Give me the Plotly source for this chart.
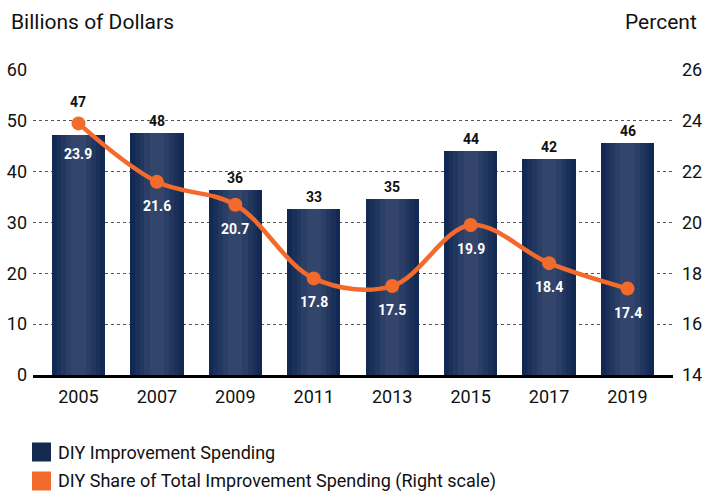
import plotly.graph_objects as go

years = ["2005", "2007", "2009", "2011", "2013", "2015", "2017", "2019"]
spending = [47.2, 47.7, 36.4, 32.7, 34.6, 44.0, 42.4, 45.7]
share = [23.9, 21.6, 20.7, 17.8, 17.5, 19.9, 18.4, 17.4]
left_ticks = [0, 10, 20, 30, 40, 50, 60]
right_ticks = [14, 16, 18, 20, 22, 24, 26]
legend_names = ["DIY Improvement Spending", "DIY Share of Total Improvement Spending (Right scale)"]

NAVY = "#13294f"
ORANGE = "#f26a2c"
FONT = "Roboto"
W, H = 706, 491
ML, MR, MT, MB = 33, 33, 70, 116
plot_w = W - ML - MR
plot_h = H - MT - MB


def px_x(x):
    return (x - ML) / plot_w


def px_y(y):
    return (H - MB - y) / plot_h


fig = go.Figure()

# gradient-like bars: layered overlay
layers = [(0.68, "#122a53"), (0.56, "#1a3058"), (0.44, "#22375f"), (0.32, "#2b3e66"), (0.18, "#34456b")]
for i, (w, c) in enumerate(layers):
    fig.add_trace(go.Bar(
        x=years, y=spending, width=w, marker=dict(color=c, line=dict(width=0)),
        name=legend_names[0], showlegend=False, yaxis="y",
        hoverinfo="skip" if i else None,
    ))

fig.add_trace(go.Scatter(
    x=years, y=share, yaxis="y2", mode="lines+markers",
    line=dict(color=ORANGE, width=4.5, shape="spline", smoothing=1.0),
    marker=dict(color=ORANGE, size=14),
    showlegend=False, name=legend_names[1],
))

annotations = []
bar_label_shift = [33, 12, 12, 12, 12, 12, 12, 12]
line_label_shift = [-31, -24, -24, -24, -24, -24, -24, -24]
for i, v in enumerate(spending):
    annotations.append(dict(
        x=i, y=v, xref="x", yref="y", text="<b>%d</b>" % int(v + 0.5), showarrow=False,
        yanchor="middle", yshift=bar_label_shift[i], font=dict(family=FONT, size=14, color="#111111"),
    ))
for i, v in enumerate(share):
    annotations.append(dict(
        x=i, y=v, xref="x", yref="y2", text="<b>%.1f</b>" % v, showarrow=False,
        yanchor="middle", yshift=line_label_shift[i], font=dict(family=FONT, size=14, color="white"),
    ))
annotations.append(dict(
    x=px_x(9), y=px_y(22), xref="paper", yref="paper",
    text="Billions of Dollars", showarrow=False,
    xanchor="left", yanchor="middle", font=dict(family=FONT, size=21, color="#111111"),
))
annotations.append(dict(
    x=px_x(699), y=px_y(22), xref="paper", yref="paper",
    text="Percent", showarrow=False,
    xanchor="right", yanchor="middle", font=dict(family=FONT, size=21, color="#111111"),
))

# manual legend (square swatches + labels)
shapes = []
for k, (name, col) in enumerate(zip(legend_names, [NAVY, ORANGE])):
    cy = 452 + 29 * k
    shapes.append(dict(
        type="rect", xref="paper", yref="paper",
        x0=px_x(32), x1=px_x(51), y0=px_y(cy - 9.5), y1=px_y(cy + 9.5),
        fillcolor=col, line=dict(width=0),
    ))
    annotations.append(dict(
        x=px_x(56), y=px_y(cy), xref="paper", yref="paper", text=name, showarrow=False,
        xanchor="left", yanchor="middle", font=dict(family=FONT, size=18, color="#111111"),
    ))

fig.update_layout(
    width=W, height=H,
    margin=dict(l=ML, r=MR, t=MT, b=MB, autoexpand=False),
    paper_bgcolor="white", plot_bgcolor="white",
    barmode="overlay", bargap=0,
    font=dict(family=FONT, size=18, color="#111111"),
    xaxis=dict(
        type="category", range=[-0.58, 7.58], showgrid=False,
        showline=True, linecolor="#000000", linewidth=2.5,
        ticks="", tickfont=dict(family=FONT, size=18, color="#111111"),
        ticklabelstandoff=4, automargin=False,
    ),
    yaxis=dict(
        range=[0, 60], tickvals=left_ticks, showgrid=True, gridcolor="#555555",
        griddash="dot", gridwidth=1.2, zeroline=False, showline=False, ticks="",
        ticklabelstandoff=5, tickfont=dict(family=FONT, size=18, color="#111111"),
        automargin=False,
    ),
    yaxis2=dict(
        range=[14, 26], tickvals=right_ticks, overlaying="y", side="right",
        showgrid=False, zeroline=False, showline=False, ticks="",
        ticklabelstandoff=8, tickfont=dict(family=FONT, size=18, color="#111111"),
        automargin=False,
    ),
    annotations=annotations,
    shapes=shapes,
    showlegend=False,
)

fig.write_html(
    "out.html",
    config={"displayModeBar": False},
    post_script="document.body.style.margin='0';document.body.style.overflow='hidden';",
)
